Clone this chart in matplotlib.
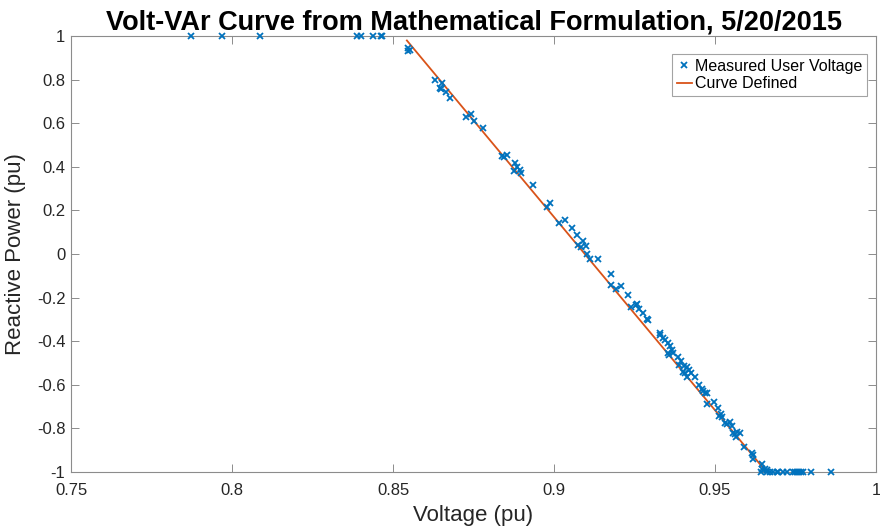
import matplotlib
matplotlib.use("Agg")
import matplotlib.pyplot as plt

plt.rcParams['font.family'] = ['Liberation Sans', 'DejaVu Sans']
plt.rcParams['axes.unicode_minus'] = False

# Measured user voltage (pu) and reactive power (pu)
voltage = [
    0.7873, 0.7970, 0.8087, 0.8387, 0.8402, 0.8438, 0.8462, 0.8466,
    0.8546, 0.8552, 0.8548, 0.8630, 0.8651, 0.8646, 0.8649, 0.8664,
    0.8678, 0.8727, 0.8741, 0.8752, 0.8779, 0.8838, 0.8845, 0.8855,
    0.8878, 0.8886, 0.8876, 0.8894, 0.8898, 0.8934, 0.8979, 0.8989,
    0.9016, 0.9033, 0.9055, 0.9071, 0.9090, 0.9075, 0.9083, 0.9100,
    0.9102, 0.9112, 0.9136, 0.9177, 0.9178, 0.9193, 0.9207, 0.9231,
    0.9240, 0.9254, 0.9258, 0.9264, 0.9276, 0.9290, 0.9292, 0.9328,
    0.9329, 0.9338, 0.9344, 0.9353, 0.9360, 0.9355, 0.9358, 0.9367,
    0.9370, 0.9385, 0.9393, 0.9387, 0.9405, 0.9412, 0.9400, 0.9406,
    0.9414, 0.9418, 0.9425, 0.9437, 0.9450, 0.9459, 0.9464, 0.9468,
    0.9474, 0.9476, 0.9498, 0.9510, 0.9512, 0.9518, 0.9521, 0.9531,
    0.9536, 0.9547, 0.9554, 0.9555, 0.9561, 0.9565, 0.9567, 0.9578,
    0.9590, 0.9614, 0.9617, 0.9619, 0.9646, 0.9645, 0.9655, 0.9661,
    0.9643, 0.9661, 0.9671, 0.9679, 0.9692, 0.9697, 0.9710, 0.9723,
    0.9742, 0.9748, 0.9755, 0.9761, 0.9767, 0.9773, 0.9797, 0.9859,
]
reactive = [
    1.0, 1.0, 1.0, 1.0, 1.0, 1.0, 1.0, 1.0,
    0.9436, 0.9358, 0.9326, 0.7968, 0.7830, 0.7601, 0.7569, 0.7445,
    0.7142, 0.6298, 0.6408, 0.6115, 0.5766, 0.4495, 0.4436, 0.4541,
    0.4161, 0.4005, 0.3794, 0.3853, 0.3729, 0.3179, 0.2142, 0.2326,
    0.1436, 0.1560, 0.1193, 0.0885, 0.0583, 0.0399, 0.0307, 0.0367,
    0.0000, -0.0243, -0.0216, -0.0917, -0.1408, -0.1619, -0.1482, -0.1881,
    -0.2445, -0.2326, -0.2294, -0.2509, -0.2706, -0.2968, -0.3028, -0.3638,
    -0.3716, -0.3867, -0.3945, -0.4096, -0.4220, -0.4555, -0.4619, -0.4404,
    -0.4555, -0.4739, -0.4894, -0.5092, -0.5138, -0.5170, -0.5399, -0.5472,
    -0.5628, -0.5321, -0.5472, -0.5656, -0.5995, -0.6206, -0.6271, -0.6390,
    -0.6390, -0.6867, -0.6803, -0.7078, -0.7431, -0.7339, -0.7463, -0.7766,
    -0.7798, -0.7693, -0.7890, -0.8197, -0.8257, -0.8381, -0.8151, -0.8225,
    -0.8867, -0.9115, -0.9220, -0.9417, -0.9633, -0.9876, -0.9876, -0.9908,
    -1.0, -1.0, -1.0, -1.0, -1.0, -1.0, -1.0, -1.0,
    -1.0, -1.0, -1.0, -1.0, -1.0, -1.0, -1.0, -1.0,
]

# Defined volt-var curve (linear segment)
curve_v = [0.8543, 0.9660]
curve_q = [0.98, -1.0]

x_ticks = [0.75, 0.80, 0.85, 0.90, 0.95, 1.00]
x_tick_labels = ['0.75', '0.8', '0.85', '0.9', '0.95', '1']
y_ticks = [-1.0, -0.8, -0.6, -0.4, -0.2, 0.0, 0.2, 0.4, 0.6, 0.8, 1.0]
y_tick_labels = ['-1', '-0.8', '-0.6', '-0.4', '-0.2', '0', '0.2', '0.4', '0.6', '0.8', '1']

fig = plt.figure(figsize=(8.8, 5.31), dpi=100)
ax = fig.add_axes([0.0807, 0.111, 0.9148, 0.821])

ax.plot(voltage, reactive, linestyle='none', marker='x', markersize=4.3,
        markeredgewidth=1.3, color='#0072BD', label='Measured User Voltage',
        clip_on=False, zorder=3)
ax.plot(curve_v, curve_q, color='#D95319', linewidth=1.3, label='Curve Defined',
        zorder=2)

ax.set_xlim(0.75, 1.0)
ax.set_ylim(-1.0, 1.0)
ax.set_xticks(x_ticks)
ax.set_xticklabels(x_tick_labels)
ax.set_yticks(y_ticks)
ax.set_yticklabels(y_tick_labels)

ax.tick_params(direction='in', length=6, width=0.7, colors='#8c8c8c',
               labelcolor='#262626', labelsize=12, top=True, right=True)
ax.tick_params(axis='x', pad=8)
ax.tick_params(axis='y', pad=4)
for sp in ax.spines.values():
    sp.set_color('#8c8c8c')
    sp.set_linewidth(0.8)

ax.set_xlabel('Voltage (pu)', fontsize=16, color='#262626', labelpad=5)
ax.set_ylabel('Reactive Power (pu)', fontsize=16, color='#262626', labelpad=8)
ax.set_title('Volt-VAr Curve from Mathematical Formulation, 5/20/2015',
             fontsize=19.5, fontweight='bold', color='black', pad=5)

leg = ax.legend(loc='upper right', bbox_to_anchor=(0.989, 0.959),
                borderaxespad=0, fontsize=11.5, frameon=True, fancybox=False,
                borderpad=0.3, handlelength=0.95, handletextpad=0.2,
                labelspacing=0.15)
leg.get_frame().set_edgecolor('#8c8c8c')
leg.get_frame().set_linewidth(0.8)

fig.savefig('out.png', dpi=100)
